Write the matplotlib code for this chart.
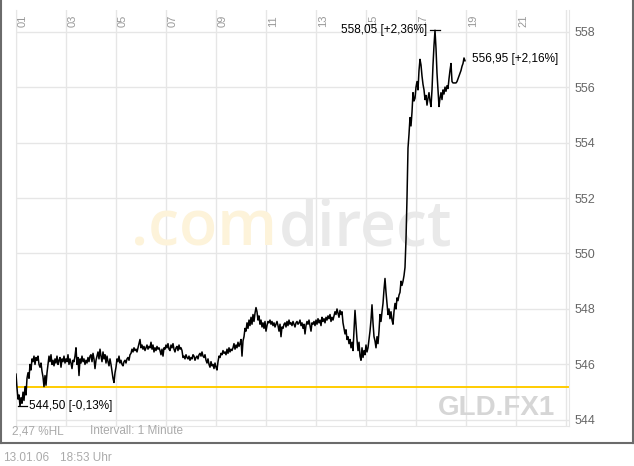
import numpy as np
import matplotlib
matplotlib.use("Agg")
import matplotlib.pyplot as plt
from matplotlib.lines import Line2D
import matplotlib.transforms as mtransforms

plt.rcParams['font.family'] = ['Liberation Sans', 'DejaVu Sans']

# --- Daten (GLD.FX1, 13.01.06, Intervall 1 Minute) ---
start_hour = 1.0
end_hour = 18.96
prev_close = 545.2
prices = [
    545.65, 545.15, 544.75, 544.9, 544.5, 544.8, 544.6, 545.0, 544.7, 545.2,
    544.9, 545.5, 545.7, 545.5, 546.0, 545.8, 546.2, 546.1, 546.3, 546.0,
    546.25, 546.15, 546.3, 546.0, 545.9, 546.05, 545.75, 545.55, 545.2, 545.6,
    545.25, 545.7, 546.0, 546.3, 546.1, 546.35, 546.0, 546.15, 545.95, 546.2,
    546.05, 546.3, 546.0, 546.15, 546.25, 545.9, 546.2, 546.1, 546.3, 546.05,
    546.2, 546.1, 546.35, 546.0, 546.2, 546.05, 545.85, 546.15, 546.1, 546.3,
    546.6, 546.0, 546.25, 545.6, 546.2, 546.05, 546.3, 546.1, 546.2, 546.0,
    546.15, 546.05, 546.25, 546.1, 546.3, 546.35, 546.1, 546.4, 546.2, 545.85,
    546.15, 546.3, 546.45, 546.2, 546.55, 546.3, 546.1, 546.45, 546.2, 546.35,
    546.05, 546.3, 546.1, 545.95, 546.2, 546.0, 545.75, 545.5, 545.35, 545.7,
    545.9, 546.2, 546.1, 546.3, 546.05, 546.15, 546.0, 545.95, 546.1, 546.15,
    546.05, 546.2, 546.25, 546.15, 546.35, 546.4, 546.55, 546.45, 546.6, 546.5,
    546.55, 546.45, 546.6, 546.75, 546.9, 546.6, 546.7, 546.55, 546.65, 546.5,
    546.6, 546.7, 546.55, 546.65, 546.6, 546.8, 546.55, 546.7, 546.45, 546.6,
    546.5, 546.65, 546.55, 546.6, 546.5, 546.35, 546.55, 546.3, 546.6, 546.55,
    546.7, 546.6, 546.75, 546.55, 546.5, 546.7, 546.6, 546.75, 546.55, 546.45,
    546.6, 546.65, 546.5, 546.7, 546.55, 546.6, 546.5, 546.25, 546.3, 546.2,
    546.35, 546.25, 546.2, 546.3, 546.15, 546.25, 546.2, 546.35, 546.3, 546.15,
    546.25, 546.3, 546.2, 546.35, 546.4, 546.3, 546.45, 546.3, 546.25, 546.35,
    546.15, 546.05, 546.2, 546.0, 545.9, 546.1, 545.95, 546.0, 545.85, 546.05,
    545.9, 545.8, 546.1, 546.3, 546.25, 546.4, 546.35, 546.5, 546.4, 546.45,
    546.35, 546.55, 546.4, 546.6, 546.45, 546.55, 546.5, 546.6, 546.75, 546.55,
    546.7, 546.6, 546.8, 546.65, 546.75, 546.9, 546.3, 546.85, 547.0, 547.3,
    547.2, 547.5, 547.3, 547.6, 547.4, 547.7, 547.45, 547.8, 547.55, 547.85,
    548.05, 547.9, 547.6, 547.75, 547.45, 547.6, 547.35, 547.5, 547.3, 547.55,
    547.2, 547.4, 547.55, 547.5, 547.6, 547.45, 547.55, 547.4, 547.5, 547.35,
    547.45, 547.55, 547.4, 547.2, 547.45, 547.0, 547.35, 547.3, 547.45, 547.5,
    547.35, 547.55, 547.4, 547.6, 547.45, 547.5, 547.4, 547.55, 547.45, 547.35,
    547.5, 547.55, 547.45, 547.5, 547.6, 547.4, 547.5, 547.3, 547.45, 547.1,
    547.4, 547.55, 547.45, 547.6, 547.4, 547.2, 547.5, 547.45, 547.55, 547.4,
    547.6, 547.45, 547.65, 547.5, 547.6, 547.4, 547.7, 547.55, 547.65, 547.5,
    547.7, 547.6, 547.75, 547.65, 547.8, 547.55, 547.7, 547.6, 547.75, 547.9,
    547.8, 548.0, 547.85, 547.7, 547.95, 547.8, 547.9, 547.5, 547.3, 547.1,
    547.25, 546.9, 547.0, 546.75, 546.9, 546.6, 546.8, 546.5, 547.2, 547.95,
    547.4, 546.9, 546.5, 546.8, 546.3, 546.15, 546.6, 546.25, 546.5, 546.35,
    546.7, 546.45, 546.6, 546.9, 547.2, 547.6, 548.15, 547.5, 547.0, 546.85,
    546.6, 547.0, 546.75, 547.2, 547.8, 547.55, 547.9, 548.2, 548.7, 549.1,
    548.6, 548.2, 547.8, 548.0, 547.65, 547.9, 547.6, 547.45, 547.9, 548.2,
    548.0, 548.4, 548.3, 548.5, 548.6, 549.0, 548.85, 549.0, 549.2, 549.5,
    550.5, 552.0, 553.8, 554.3, 554.9, 554.6, 555.1, 555.8, 555.5, 555.6,
    556.0, 556.2, 555.9, 556.6, 557.0, 556.8, 556.4, 556.1, 555.9, 555.55,
    555.7, 555.35, 555.6, 555.8, 555.5, 555.3, 555.9, 556.8, 557.5, 558.05,
    557.4, 556.5, 555.9, 555.3, 555.6, 555.8, 555.55, 555.9, 555.75, 556.0,
    555.85, 556.05, 555.95, 556.3, 556.6, 556.85, 556.2, 556.15, 556.15, 556.15,
    556.15, 556.2, 556.3, 556.4, 556.5, 556.6, 556.75, 556.85, 557.05, 556.95,
]
y_ticks = [544, 546, 548, 550, 552, 554, 556, 558]
hour_ticks = [1, 3, 5, 7, 9, 11, 13, 15, 17, 19, 21, 23]
hour_labels = ["01", "03", "05", "07", "09", "11", "13", "15", "17", "19", "21"]

prices = np.array(prices)
hours = np.linspace(start_hour, end_hour, len(prices))

W, H = 634, 466
fig = plt.figure(figsize=(W / 100, H / 100), dpi=100)
fig.patch.set_facecolor("white")
ax = fig.add_axes([16 / W, 40 / H, 553 / W, 416 / H])
ax.set_xlim(1.0, 23.12)
ax.set_ylim(543.78, 558.78)

# Gitter
grid_c = "#e6e6e6"
for h in hour_ticks:
    ax.axvline(h, color=grid_c, lw=1, zorder=0)
for v in y_ticks:
    ax.axhline(v, color=grid_c, lw=1, zorder=0)
for s in ["left", "right", "bottom"]:
    ax.spines[s].set_color(grid_c)
ax.spines["top"].set_visible(False)

ax.set_xticks([])
ax.yaxis.tick_right()
ax.set_yticks(y_ticks)
ax.set_yticklabels([str(v) for v in y_ticks])
ax.tick_params(axis="y", length=0, pad=4, labelsize=9, labelcolor="#666666")

# Stundenbeschriftung oben (gedreht)
trans = mtransforms.blended_transform_factory(ax.transData, ax.transAxes)
for h, lab in zip(hour_ticks, hour_labels):
    ax.annotate(lab, xy=(h, 1.0), xycoords=trans, xytext=(7, -11),
                textcoords="offset pixels", rotation=90, ha="center", va="center",
                fontsize=8, color="#999999")

# Wasserzeichen
ax.text(0.472, 0.435, ".com", transform=ax.transAxes, ha="right", va="baseline",
        fontsize=45, color="#fdf3da", family=["Open Sans", "DejaVu Sans"],
        fontweight="semibold", zorder=1)
ax.text(0.476, 0.435, "direct", transform=ax.transAxes, ha="left", va="baseline",
        fontsize=45, color="#e9e9e9", family=["Open Sans", "DejaVu Sans"],
        fontweight="semibold", zorder=1)
ax.text(0.975, 0.026, "GLD.FX1", transform=ax.transAxes, ha="right", va="baseline",
        fontsize=20, color="#d6d6d6", fontweight="bold", zorder=1)

# Vortagesschluss
ax.axhline(prev_close, color="#ffcc00", lw=1.4, zorder=2)

# Kurs
ax.plot(hours, prices, color="black", lw=1.1, zorder=3)

def fmt(p):
    pct = (p / prev_close - 1) * 100
    return f"{p:.2f}".replace(".", ",") + f" [{pct:+.2f}%]".replace(".", ",")

i_max = int(np.argmax(prices))
i_min = int(np.argmin(prices))
dh = 0.2
ax.plot([hours[i_max] - dh, hours[i_max] + dh], [prices[i_max]] * 2, color="black", lw=0.9)
ax.annotate(fmt(prices[i_max]), xy=(hours[i_max] - dh, prices[i_max]),
            xytext=(-3, 0), textcoords="offset pixels", ha="right", va="center",
            fontsize=8.5, color="black")
ax.plot([hours[i_min] - 0.08, hours[i_min] + 0.28], [prices[i_min]] * 2, color="black", lw=0.9)
ax.annotate(fmt(prices[i_min]), xy=(hours[i_min] + 0.28, prices[i_min]),
            xytext=(2, 0), textcoords="offset pixels", ha="left", va="center",
            fontsize=8.5, color="black")
ax.annotate(fmt(prices[-1]), xy=(hours[-1], prices[-1]),
            xytext=(7, 2), textcoords="offset pixels", ha="left", va="center",
            fontsize=8.5, color="black")

# Fußzeilen
fig.text(12 / W, 1 - 431 / H, "2,47 %HL", ha="left", va="center", fontsize=8.5, color="#aaaaaa")
fig.text(90 / W, 1 - 431 / H, "Intervall: 1 Minute", ha="left", va="center", fontsize=8.5, color="#aaaaaa")
fig.text(3 / W, 1 - 458 / H, "13.01.06", ha="left", va="center", fontsize=8.5, color="#aaaaaa")
fig.text(60 / W, 1 - 458 / H, "18:53 Uhr", ha="left", va="center", fontsize=8.5, color="#aaaaaa")

# Rahmen
frame_c = "#6b6b6b"
fig.add_artist(Line2D([0.5 / W, 0.5 / W], [1 - 443 / H, 1], color=frame_c, lw=1.5))
fig.add_artist(Line2D([0.5 / W, 633 / W], [1 - 443 / H, 1 - 443 / H], color=frame_c, lw=1.5))
fig.add_artist(Line2D([633 / W, 633 / W], [1 - 443 / H, 1], color=frame_c, lw=1.5))

fig.savefig("out.png", dpi=100)
